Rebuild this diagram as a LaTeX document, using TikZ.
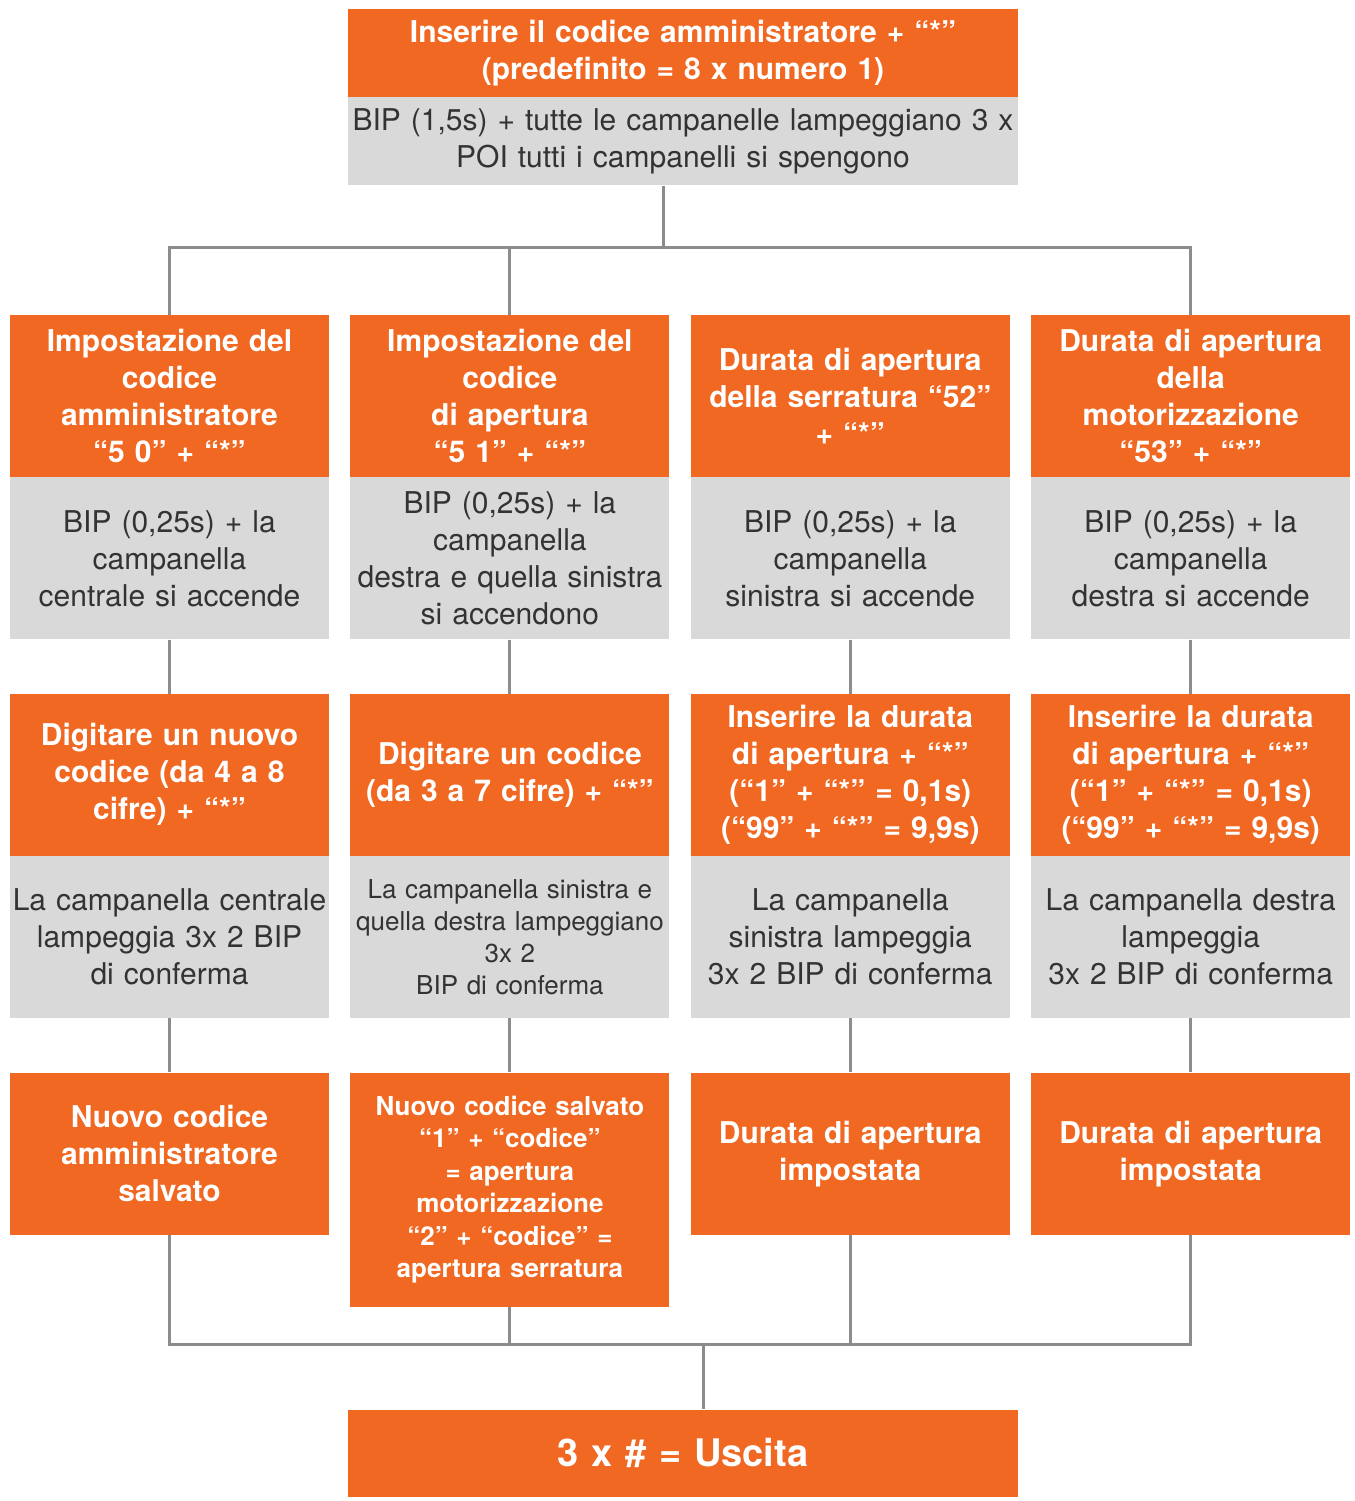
\documentclass[tikz,border=0pt]{standalone}
\usepackage{fontspec}
\setmainfont{TeX Gyre Heros}
\usetikzlibrary{positioning}
\definecolor{boxorange}{RGB}{240,104,34}
\definecolor{boxgrey}{RGB}{217,217,217}
\definecolor{linegrey}{RGB}{140,140,140}

\begin{document}
\begin{tikzpicture}[
			x=1pt, y=-1pt,
			node distance=54pt and 21pt,
			hbox/.style={rectangle, fill=boxorange, text=white, text width=319pt, inner xsep=0pt, align=center, minimum height=162pt, font=\bfseries\fontsize{30}{37}\selectfont},
			gbox/.style={rectangle, fill=boxgrey, text=black!80, text width=319pt, inner xsep=0pt, align=center, minimum height=162pt, font=\fontsize{30}{37}\selectfont},
			smallbold/.style={font=\bfseries\fontsize{26}{32.5}\selectfont},
			smallreg/.style={font=\fontsize{26}{32}\selectfont},
			conn/.style={draw=linegrey, line width=3pt}
			]
			\useasboundingbox (0,0) rectangle (1354,1501);
			\node[hbox, text width=670pt, minimum height=88pt] (start) at (683,53) {Inserire il codice amministratore + “*”\\(predefinito = 8 x numero 1)};
			\node[gbox, text width=670pt, minimum height=88pt, below=0pt of start] (startbip) {BIP (1,5s) + tutte le campanelle lampeggiano 3 x\\POI tutti i campanelli si spengono};
			
			\node[hbox] (set1) at (169.5,396) {Impostazione del\\codice\\amministratore\\“5 0” + “*”};
			\node[hbox, right=of set1] (set2) {Impostazione del\\codice\\di apertura\\“5 1” + “*”};
			\node[hbox, right=of set2] (set3) {Durata di apertura\\della serratura “52”\\+ “*”};
			\node[hbox, right=of set3] (set4) {Durata di apertura\\della\\motorizzazione\\“53” + “*”};
			
			\node[gbox, below=0pt of set1] (bip1) {BIP (0,25s) + la\\campanella\\centrale si accende};
			\node[gbox, below=0pt of set2] (bip2) {BIP (0,25s) + la\\campanella\\destra e quella sinistra\\si accendono};
			\node[gbox, below=0pt of set3] (bip3) {BIP (0,25s) + la\\campanella\\sinistra si accende};
			\node[gbox, below=0pt of set4] (bip4) {BIP (0,25s) + la\\campanella\\destra si accende};
			
			\node[hbox, below=of bip1] (inp1) {Digitare un nuovo\\codice (da 4 a 8\\cifre) + “*”};
			\node[hbox, below=of bip2] (inp2) {Digitare un codice\\(da 3 a 7 cifre) + “*”};
			\node[hbox, below=of bip3] (inp3) {Inserire la durata\\di apertura + “*”\\(“1” + “*” = 0,1s)\\(“99” + “*” = 9,9s)};
			\node[hbox, below=of bip4] (inp4) {Inserire la durata\\di apertura + “*”\\(“1” + “*” = 0,1s)\\(“99” + “*” = 9,9s)};
			
			\node[gbox, below=0pt of inp1] (conf1) {La campanella centrale\\lampeggia 3x 2 BIP\\di conferma};
			\node[gbox, smallreg, below=0pt of inp2] (conf2) {La campanella sinistra e\\quella destra lampeggiano\\3x 2\\BIP di conferma};
			\node[gbox, below=0pt of inp3] (conf3) {La campanella\\sinistra lampeggia\\3x 2 BIP di conferma};
			\node[gbox, below=0pt of inp4] (conf4) {La campanella destra\\lampeggia\\3x 2 BIP di conferma};
			
			\node[hbox, below=of conf1] (done1) {Nuovo codice\\amministratore\\salvato};
			\node[hbox, smallbold, minimum height=234pt, below=of conf2] (done2) {Nuovo codice salvato\\“1” + “codice”\\= apertura\\motorizzazione\\“2” + “codice” =\\apertura serratura};
			\node[hbox, below=of conf3] (done3) {Durata di apertura\\impostata};
			\node[hbox, below=of conf4] (done4) {Durata di apertura\\impostata};
			
			\node[hbox, text width=670pt, minimum height=87pt, font=\bfseries\fontsize{38}{44}\selectfont] (exit) at (683,1453) {3 x \# = Uscita};
			
			\coordinate (jtop) at (663,247);
			\coordinate (jbot) at (703,1344);
			
			\draw[conn] (startbip.south -| jtop) -- (jtop);
			\draw[conn] (set1.north) |- (set4.north |- jtop) -- (set4.north);
			\draw[conn] (set2.north) -- (set2.north |- jtop);
			\foreach \i in {1,...,4} {
				\draw[conn] (bip\i.south) -- (inp\i.north);
				\draw[conn] (conf\i.south) -- (done\i.north);
			}
			\draw[conn] (done1.south) |- (done4.south |- jbot) -- (done4.south);
			\draw[conn] (done2.south) -- (done2.south |- jbot);
			\draw[conn] (done3.south) -- (done3.south |- jbot);
			\draw[conn] (jbot) -- (jbot |- exit.north);
		\end{tikzpicture}
\end{document}
